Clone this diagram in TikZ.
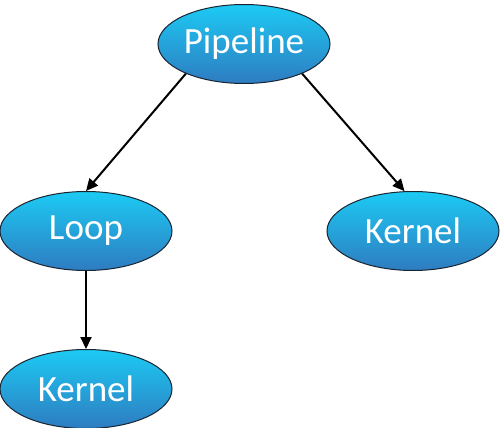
\documentclass[tikz,border=0pt]{standalone}
\usepackage{fontspec}
\setmainfont{Carlito}
\usetikzlibrary{shapes.geometric,arrows.meta}
\definecolor{topc}{HTML}{1CCBF4}
\definecolor{botc}{HTML}{2E7BC0}
\definecolor{edgec}{HTML}{1A2330}
\tikzset{
  blob/.style={ellipse, draw=edgec, line width=1pt, top color=topc, bottom color=botc,
    minimum width=172pt, minimum height=79pt, inner sep=0pt, text=white,
    font=\fontsize{37}{42}\selectfont},
  link/.style={draw=black, line width=2pt, -{Triangle[length=12pt,width=11pt]}}
}
\begin{document}
\begin{tikzpicture}[x=1pt,y=-1pt]
\useasboundingbox (0,0) rectangle (504,428);
\node[blob] (p) at (244,44) {Pipeline};
\node[blob] (loop) at (86,231) {Loop};
\node[blob] (kr) at (413,231) {Kernel};
\node[blob] (kb) at (86,389) {Kernel};
\draw[link] (p.207) -- (loop.north);
\draw[link] (p.-27) -- (kr.102);
\draw[link] (loop.south) -- (kb.north);
\end{tikzpicture}
\end{document}
